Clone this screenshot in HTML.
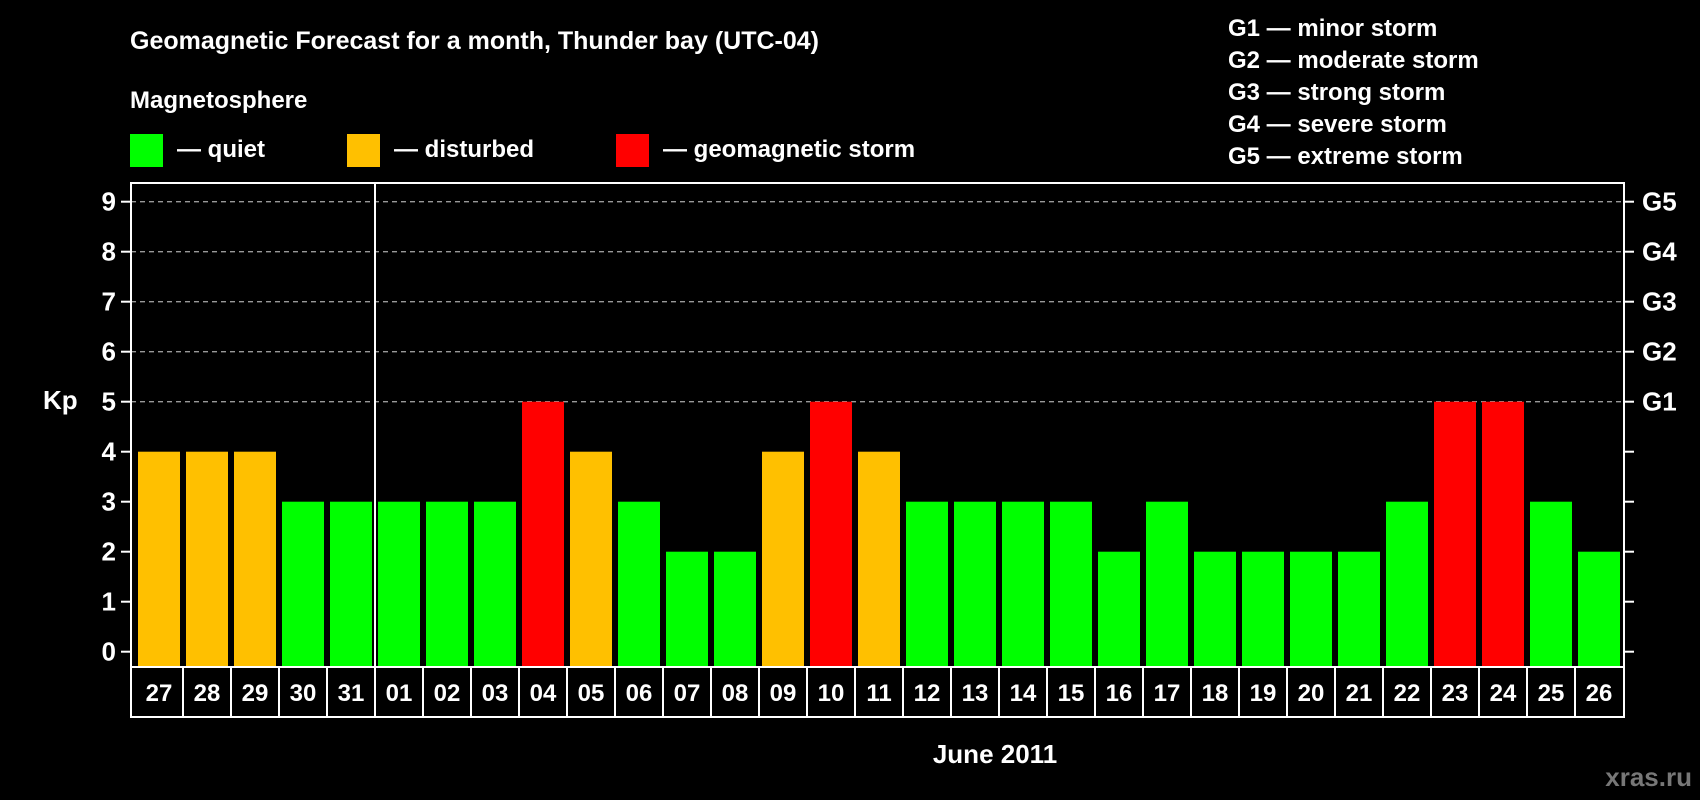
<!DOCTYPE html>
<html><head><meta charset="utf-8"><style>
html,body{margin:0;padding:0;background:#000;width:1700px;height:800px;overflow:hidden}
svg text{font-family:"Liberation Sans",Arial,sans-serif;font-weight:bold;fill:#fff}
</style></head><body>
<svg id="chart" width="1700" height="800" viewBox="0 0 1700 800" xmlns="http://www.w3.org/2000/svg">
<rect width="1700" height="800" fill="#000"/>
<text x="130" y="49" font-size="25">Geomagnetic Forecast for a month, Thunder bay (UTC-04)</text>
<text x="130" y="108" font-size="24">Magnetosphere</text>
<rect x="130" y="134" width="33" height="33" fill="#00ff00"/>
<text x="177" y="157" font-size="24">— quiet</text>
<rect x="347" y="134" width="33" height="33" fill="#ffc000"/>
<text x="394" y="157" font-size="24">— disturbed</text>
<rect x="616" y="134" width="33" height="33" fill="#ff0000"/>
<text x="663" y="157" font-size="24">— geomagnetic storm</text>
<g font-size="24">
<text x="1228" y="36">G1 — minor storm</text>
<text x="1228" y="68">G2 — moderate storm</text>
<text x="1228" y="100">G3 — strong storm</text>
<text x="1228" y="132">G4 — severe storm</text>
<text x="1228" y="164">G5 — extreme storm</text>
</g>
<text x="43" y="409" font-size="26">Kp</text>
<text x="995" y="763" font-size="26" text-anchor="middle">June 2011</text>
<text x="1692" y="786" font-size="26" text-anchor="end" style="fill:#777">xras.ru</text>
<g id="plot"></g>
</svg>
<script>
const days = ["27","28","29","30","31","01","02","03","04","05","06","07","08","09","10","11","12","13","14","15","16","17","18","19","20","21","22","23","24","25","26"];
const kpValues = [4,4,4,3,3,3,3,3,5,4,3,2,2,4,5,4,3,3,3,3,2,3,2,2,2,2,3,5,5,3,2];
const yTicks = [0,1,2,3,4,5,6,7,8,9];
const gLabels = ["G1","G2","G3","G4","G5"];
const gLevels = [5,6,7,8,9];

const NS="http://www.w3.org/2000/svg";
const plot=document.getElementById('plot');
const L=131,R=1624,T=183,B=667,step=48,x0=135;
const y=v=>651.7-v*50;
const xb=i=>x0+step*i;
function mk(tag,attrs){const e=document.createElementNS(NS,tag);for(const k in attrs)e.setAttribute(k,attrs[k]);plot.appendChild(e);return e;}
function color(v){return v>=5?'#ff0000':(v>=4?'#ffc000':'#00ff00');}

// gridlines
gLevels.forEach(v=>{
  const g=mk('line',{x1:L,x2:R,y1:y(v),y2:y(v),stroke:'#999','stroke-width':1.3,'stroke-dasharray':'5,4'});
  
  
});
// bars
kpValues.forEach((v,i)=>{
  const r=mk('rect',{x:xb(i)+3,y:y(v),width:42,height:B-y(v),fill:color(v)});
  
  
});
// frame
const f=mk('rect',{x:L,y:T,width:R-L,height:B-T,fill:'none',stroke:'#fff','stroke-width':2});


// month divider
const di=days.indexOf("01");
const dv=mk('line',{x1:xb(di),x2:xb(di),y1:T,y2:B,stroke:'#fff','stroke-width':2});


// y ticks
yTicks.forEach(v=>{
  const t=mk('line',{x1:L-10,x2:L,y1:y(v),y2:y(v),stroke:'#fff','stroke-width':2});
  
  
  const t2=mk('line',{x1:R,x2:R+10,y1:y(v),y2:y(v),stroke:'#fff','stroke-width':2});
  
  
  const lb=mk('text',{x:116,y:y(v)+9,'font-size':26,'text-anchor':'end'});
  lb.textContent=v;
  
  
});
gLabels.forEach((g,i)=>{
  const lb=mk('text',{x:1642,y:y(gLevels[i])+9,'font-size':26});
  lb.textContent=g;
  
  
});
// day label cells
const box=mk('rect',{x:L,y:B,width:R-L,height:50,fill:'none',stroke:'#fff','stroke-width':2});


days.forEach((d,i)=>{
  if(i>0){const s=mk('line',{x1:xb(i),x2:xb(i),y1:B,y2:B+50,stroke:'#fff','stroke-width':2});
    
    }
  const t=mk('text',{x:xb(i)+24,y:B+34,'font-size':24,'text-anchor':'middle'});
  t.textContent=d;
  
  
});
</script>
</body></html>
